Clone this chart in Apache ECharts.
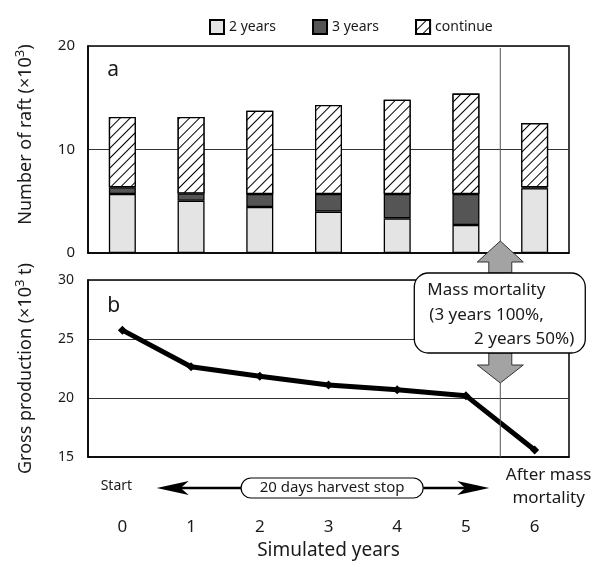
<!DOCTYPE html>
<html>
<head>
<meta charset="utf-8">
<script src="https://cdn.jsdelivr.net/npm/echarts@6/dist/echarts.min.js"></script>
<style>
  html, body { margin: 0; background: #fff; }
  #main { width: 596px; height: 562px; }
</style>
</head>
<body>
<div id="main"></div>
<script>
// simulated years (category axis shared by both panels)
const years = ["0", "1", "2", "3", "4", "5", "6"];

// panel a: number of rafts (x10^3), stacked
const twoYears = [5.7, 5.05, 4.45, 4.0, 3.35, 2.7, 6.25];
const threeYears = [0.65, 0.7, 1.25, 1.7, 2.35, 3.0, 0.1];
const continueRaft = [6.8, 7.4, 8.05, 8.6, 9.1, 9.7, 6.2];
const raftTicks = [0, 10, 20];

// panel b: gross production (x10^3 t)
const production = [25.75, 22.65, 21.85, 21.1, 20.7, 20.2, 15.6];
const prodTicks = [15, 20, 25, 30];

const FONT = "Noto Sans";
const TXT = "#1a1a1a";

const hatch = {
  symbol: "rect",
  symbolSize: 1,
  color: "#000",
  backgroundColor: "#fff",
  dashArrayX: [1, 0],
  dashArrayY: [1, 6],
  rotation: -Math.PI / 4
};

// superscript for the axis titles
const supRich = {
  base: { fontSize: 18, fontFamily: FONT, color: TXT, lineHeight: 24 },
  sup: { fontSize: 13, fontFamily: FONT, color: TXT, verticalAlign: "top", lineHeight: 24 }
};

const option = {
  animation: false,
  backgroundColor: "#fff",
  textStyle: { fontFamily: FONT, color: TXT },
  legend: {
    top: 14,
    left: 204,
    icon: "rect",
    itemWidth: 14,
    itemHeight: 14,
    itemGap: 36,
    textStyle: { fontSize: 14, color: TXT, fontFamily: FONT },
    data: ["2 years", "3 years", "continue"]
  },
  grid: [
    { left: 88, top: 46, width: 481, height: 207, show: true, borderColor: "#000", borderWidth: 1.5, backgroundColor: "transparent" },
    { left: 88, top: 280, width: 481, height: 177, show: true, borderColor: "#000", borderWidth: 1.5, backgroundColor: "transparent" }
  ],
  xAxis: [
    {
      type: "category",
      gridIndex: 0,
      data: years,
      axisLine: { lineStyle: { color: "#000", width: 1.5 } },
      axisTick: { inside: true, length: 4, lineStyle: { color: "#666" } },
      axisLabel: { show: false }
    },
    {
      type: "category",
      gridIndex: 1,
      data: years,
      axisLine: { lineStyle: { color: "#000", width: 1.5 } },
      axisTick: { inside: true, length: 4, lineStyle: { color: "#666" } },
      axisLabel: { fontSize: 17, margin: 62, color: TXT, fontFamily: FONT },
      name: "Simulated years",
      nameLocation: "middle",
      nameGap: 84,
      nameTextStyle: { fontSize: 19, color: TXT, fontFamily: FONT }
    }
  ],
  yAxis: [
    {
      type: "value",
      gridIndex: 0,
      min: raftTicks[0],
      max: raftTicks[raftTicks.length - 1],
      interval: 10,
      axisLine: { show: true, lineStyle: { color: "#000", width: 1.5 } },
      axisTick: { show: false },
      axisLabel: { fontSize: 15, margin: 13, color: TXT, fontFamily: FONT },
      splitLine: { lineStyle: { color: "#333", width: 1 } },
      name: "{base|Number of raft (×10}{sup|3}{base|)}",
      nameLocation: "middle",
      nameGap: 50,
      nameTextStyle: { fontSize: 18, color: TXT, fontFamily: FONT, padding: [0, 0, 0, 30], rich: supRich }
    },
    {
      type: "value",
      gridIndex: 1,
      min: prodTicks[0],
      max: prodTicks[prodTicks.length - 1],
      interval: 5,
      axisLine: { show: true, lineStyle: { color: "#000", width: 1.5 } },
      axisTick: { show: false },
      axisLabel: { fontSize: 14, margin: 14, color: TXT, fontFamily: FONT },
      splitLine: { lineStyle: { color: "#333", width: 1 } },
      name: "{base|Gross production (×10}{sup|3}{base| t)}",
      nameLocation: "middle",
      nameGap: 50,
      nameTextStyle: { fontSize: 18, color: TXT, fontFamily: FONT, rich: supRich }
    }
  ],
  series: [
    {
      name: "2 years",
      type: "bar",
      stack: "raft",
      xAxisIndex: 0,
      yAxisIndex: 0,
      barWidth: 27,
      itemStyle: { color: "#e4e4e4", borderColor: "#000", borderWidth: 1.3 },
      data: twoYears
    },
    {
      name: "3 years",
      type: "bar",
      stack: "raft",
      xAxisIndex: 0,
      yAxisIndex: 0,
      barWidth: 27,
      itemStyle: { color: "#555", borderColor: "#000", borderWidth: 1.3 },
      data: threeYears
    },
    {
      name: "continue",
      type: "bar",
      stack: "raft",
      xAxisIndex: 0,
      yAxisIndex: 0,
      barWidth: 27,
      itemStyle: { color: "#fff", borderColor: "#000", borderWidth: 1.3, decal: hatch },
      data: continueRaft
    },
    {
      name: "production",
      type: "line",
      xAxisIndex: 1,
      yAxisIndex: 1,
      symbol: "diamond",
      symbolSize: 9,
      lineStyle: { color: "#000", width: 5 },
      itemStyle: { color: "#000" },
      data: production
    }
  ]
};

const chart = echarts.init(document.getElementById("main"));
chart.setOption(option);

// annotation layer, positioned from the axes
const pA = (i, v) => chart.convertToPixel({ gridIndex: 0 }, [i, v]);
const pB = (i, v) => chart.convertToPixel({ gridIndex: 1 }, [i, v]);

const xd = (pB(5, 20)[0] + pB(6, 20)[0]) / 2;     // divider between year 5 and 6
const yA0 = pA(0, raftTicks[0])[1];
const yATop = pA(0, raftTicks[raftTicks.length - 1])[1];
const yBTop = pB(0, prodTicks[prodTicks.length - 1])[1];
const yBBot = pB(0, prodTicks[0])[1];

const boxTop = yBTop - 7, boxBot = yBTop + 73;
const upTip = yA0 - 12, upBase = yA0 + 9;
const dnBase = boxBot + 12, dnTip = boxBot + 30;

const arrowStyle = { fill: "#a3a3a3", stroke: "#333", lineWidth: 1 };
const lineStyle = { stroke: "#555", lineWidth: 1 };

const rowY = yBBot + 31;
const xStartTip = (pB(0, 15)[0] + pB(1, 15)[0]) / 2;
const xEndTip = xd - 11;
const pillL = pB(1, 15)[0] + 50, pillR = pB(4, 15)[0] + 26;

const graphic = [
  // divider through panel a
  { type: "line", z: 50, shape: { x1: xd, y1: yATop + 2, x2: xd, y2: yA0 }, style: lineStyle },
  // divider in panel b below the arrow
  { type: "line", z: 50, shape: { x1: xd, y1: dnTip, x2: xd, y2: yBBot }, style: lineStyle },
  // up arrow
  {
    type: "polygon", z: 60,
    shape: { points: [[xd, upTip], [xd + 23, upBase], [xd + 11.5, upBase], [xd + 11.5, boxTop], [xd - 11.5, boxTop], [xd - 11.5, upBase], [xd - 23, upBase]] },
    style: arrowStyle
  },
  // down arrow
  {
    type: "polygon", z: 60,
    shape: { points: [[xd - 11.5, boxBot], [xd + 11.5, boxBot], [xd + 11.5, dnBase], [xd + 23, dnBase], [xd, dnTip], [xd - 23, dnBase], [xd - 11.5, dnBase]] },
    style: arrowStyle
  },
  // mass mortality box
  {
    type: "rect", z: 70,
    shape: { x: xd - 86, y: boxTop, width: 171, height: boxBot - boxTop, r: 14 },
    style: { fill: "#fff", stroke: "#000", lineWidth: 1.3 }
  },
  { type: "text", z: 71, x: xd - 73, y: boxTop + 17, style: { text: "Mass mortality", font: "17px " + FONT, fill: TXT, verticalAlign: "middle" } },
  { type: "text", z: 71, x: xd - 71, y: boxTop + 42, style: { text: "(3 years 100%,", font: "17px " + FONT, fill: TXT, verticalAlign: "middle" } },
  { type: "text", z: 71, x: xd + 74, y: boxTop + 66, style: { text: "2 years 50%)", font: "17px " + FONT, fill: TXT, align: "right", verticalAlign: "middle" } },
  // panel labels
  { type: "text", z: 71, x: pA(0, 0)[0] - 15, y: pA(0, 17.7)[1], style: { text: "a", font: "21px " + FONT, fill: TXT, verticalAlign: "middle" } },
  { type: "text", z: 71, x: pB(0, 0)[0] - 15, y: pB(0, 27.8)[1], style: { text: "b", font: "21px " + FONT, fill: TXT, verticalAlign: "middle" } },
  // bottom row: Start <- 20 days harvest stop -> After mass mortality
  { type: "text", x: pB(0, 15)[0] - 6, y: rowY - 2, style: { text: "Start", font: "14px " + FONT, fill: TXT, align: "center", verticalAlign: "middle" } },
  { type: "line", shape: { x1: xStartTip + 20, y1: rowY, x2: pillL, y2: rowY }, style: { stroke: "#000", lineWidth: 2.5 } },
  { type: "polygon", shape: { points: [[xStartTip, rowY], [xStartTip + 32, rowY - 7], [xStartTip + 24, rowY], [xStartTip + 32, rowY + 7]] }, style: { fill: "#000" } },
  { type: "line", shape: { x1: pillR, y1: rowY, x2: xEndTip - 20, y2: rowY }, style: { stroke: "#000", lineWidth: 2.5 } },
  { type: "polygon", shape: { points: [[xEndTip, rowY], [xEndTip - 32, rowY - 7], [xEndTip - 24, rowY], [xEndTip - 32, rowY + 7]] }, style: { fill: "#000" } },
  {
    type: "rect",
    shape: { x: pillL, y: rowY - 10, width: pillR - pillL, height: 20, r: 10 },
    style: { fill: "#fff", stroke: "#000", lineWidth: 1.2 }
  },
  { type: "text", x: (pillL + pillR) / 2, y: rowY, style: { text: "20 days harvest stop", font: "15px " + FONT, fill: TXT, align: "center", verticalAlign: "middle" } },
  { type: "text", x: pB(6, 15)[0] + 14, y: rowY - 13, style: { text: "After mass", font: "17px " + FONT, fill: TXT, align: "center", verticalAlign: "middle" } },
  { type: "text", x: pB(6, 15)[0] + 14, y: rowY + 10, style: { text: "mortality", font: "17px " + FONT, fill: TXT, align: "center", verticalAlign: "middle" } }
];

chart.setOption({ graphic: graphic });
</script>
</body>
</html>
